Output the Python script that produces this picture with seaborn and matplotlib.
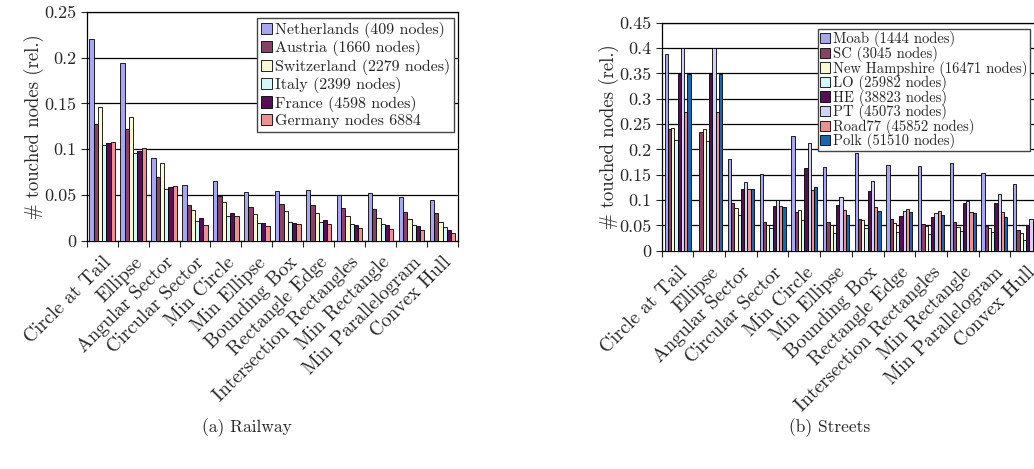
import numpy as np
import pandas as pd
import matplotlib
matplotlib.use('Agg')
import matplotlib.pyplot as plt
import seaborn as sns
from matplotlib.ticker import FuncFormatter, FixedLocator

methods = ['Circle at Tail', 'Ellipse', 'Angular Sector', 'Circular Sector', 'Min Circle',
           'Min Ellipse', 'Bounding Box', 'Rectangle Edge', 'Intersection Rectangles',
           'Min Rectangle', 'Min Parallelogram', 'Convex Hull']

# (a) Railway
rail_names = ['Netherlands (409 nodes)', 'Austria (1660 nodes)', 'Switzerland (2279 nodes)',
              'Italy (2399 nodes)', 'France (4598 nodes)', 'Germany nodes 6884']
netherlands = [0.220, 0.194, 0.091, 0.061, 0.065, 0.053, 0.054, 0.056, 0.050, 0.052, 0.048, 0.045]
austria = [0.128, 0.122, 0.070, 0.039, 0.049, 0.037, 0.040, 0.039, 0.036, 0.035, 0.032, 0.030]
switzerland = [0.146, 0.135, 0.085, 0.034, 0.043, 0.029, 0.033, 0.031, 0.027, 0.025, 0.024, 0.021]
italy = [0.105, 0.096, 0.057, 0.022, 0.027, 0.020, 0.021, 0.021, 0.019, 0.019, 0.017, 0.015]
france = [0.107, 0.098, 0.059, 0.025, 0.031, 0.020, 0.020, 0.023, 0.017, 0.017, 0.016, 0.012]
germany = [0.108, 0.101, 0.060, 0.017, 0.027, 0.016, 0.018, 0.019, 0.014, 0.013, 0.012, 0.009]
rail_colors = ['#9999FF', '#993366', '#FFFFCC', '#CCFFFF', '#660066', '#FF8080']

# (b) Streets
street_names = ['Moab (1444 nodes)', 'SC (3045 nodes)', 'New Hampshire (16471 nodes)',
                'LO (25982 nodes)', 'HE (38823 nodes)', 'PT (45073 nodes)',
                'Road77 (45852 nodes)', 'Polk (51510 nodes)']
moab = [0.389, np.nan, 0.180, 0.151, 0.226, 0.165, 0.192, 0.170, 0.167, 0.174, 0.153, 0.131]
sc = [0.240, 0.234, 0.094, 0.056, 0.076, 0.056, 0.063, 0.063, 0.053, 0.057, 0.049, 0.041]
new_hampshire = [0.243, 0.240, 0.084, 0.050, 0.080, 0.050, 0.061, 0.054, 0.049, 0.046, 0.045, 0.034]
lo = [0.218, 0.216, 0.070, 0.044, 0.061, 0.034, 0.044, 0.036, 0.032, 0.039, 0.037, 0.022]
he = [0.349, 0.349, 0.122, 0.088, 0.164, 0.090, 0.118, 0.068, 0.066, 0.094, 0.094, 0.050]
pt = [0.400, 0.400, 0.136, 0.100, 0.212, 0.105, 0.138, 0.078, 0.075, 0.099, 0.111, 0.063]
road77 = [0.274, 0.273, 0.121, 0.088, 0.120, 0.080, 0.086, 0.082, 0.078, 0.077, 0.076, 0.057]
polk = [0.349, 0.349, 0.122, 0.086, 0.125, 0.070, 0.078, 0.076, 0.070, 0.075, 0.067, 0.055]
street_colors = ['#9999FF', '#993366', '#FFFFCC', '#CCFFFF', '#660066', '#CCCCFF', '#FF8080', '#0066CC']


def to_long(names, series):
    rows = []
    for name, vals in zip(names, series):
        for m, v in zip(methods, vals):
            rows.append({'method': m, 'network': name, 'value': v})
    return pd.DataFrame(rows)


df_rail = to_long(rail_names, [netherlands, austria, switzerland, italy, france, germany])
df_street = to_long(street_names, [moab, sc, new_hampshire, lo, he, pt, road77, polk])

sns.set_style('white')
plt.rcParams['font.family'] = ['cmr10', 'DejaVu Serif']
plt.rcParams['axes.formatter.use_mathtext'] = True

fig = plt.figure(figsize=(10.34, 4.69), dpi=100)
ax1 = fig.add_axes([86.7 / 1034, 1 - 241 / 469, 371.3 / 1034, 229.3 / 469])
ax2 = fig.add_axes([661.7 / 1034, 1 - 250.7 / 469, 380.3 / 1034, 228 / 469])


def style_axis(ax, df, names, colors, ymax, step):
    sns.barplot(data=df, x='method', y='value', hue='network', hue_order=names,
                order=methods, palette=colors, edgecolor='black', linewidth=0.6,
                width=0.82, errorbar=None, ax=ax, zorder=3)
    ax.set_xlim(-0.5, len(methods) - 0.5)
    ax.set_ylim(0, ymax)
    ax.set_yticks(np.arange(0, ymax + step / 2, step))
    ax.yaxis.set_major_formatter(FuncFormatter(lambda v, p: '%g' % round(v, 3)))
    ax.grid(axis='y', color='black', linewidth=0.9, zorder=0)
    ax.set_axisbelow(True)
    ax.set_xlabel('')
    ax.set_ylabel('# touched nodes (rel.)', fontsize=13.5, labelpad=0)
    ax.set_xticks(range(len(methods)))
    ax.set_xticklabels(methods, rotation=45, ha='right', rotation_mode='anchor', fontsize=14)
    ax.xaxis.set_minor_locator(FixedLocator(np.arange(-0.5, len(methods), 1)))
    ax.tick_params(axis='x', which='major', length=0, pad=9)
    ax.tick_params(axis='x', which='minor', length=4, width=0.8, direction='out', bottom=True)
    ax.tick_params(axis='y', length=4, width=0.8, direction='out', left=True, labelsize=13)
    for s in ax.spines.values():
        s.set_color('black')
        s.set_linewidth(0.9)


style_axis(ax1, df_rail, rail_names, rail_colors, 0.25, 0.05)
style_axis(ax2, df_street, street_names, street_colors, 0.45, 0.05)

h, l = ax1.get_legend_handles_labels()
ax1.legend(h, l, loc='upper right', bbox_to_anchor=(454 / 1034, 1 - 18 / 469),
           bbox_transform=fig.transFigure, fontsize=11.5, frameon=True, fancybox=False,
           edgecolor='#444444', framealpha=1, borderpad=0.25, labelspacing=0.15,
           handlelength=0.7, handleheight=0.7, handletextpad=0.2, borderaxespad=0)

h, l = ax2.get_legend_handles_labels()
ax2.legend(h, l, loc='upper left', bbox_to_anchor=(818 / 1034, 1 - 29.3 / 469),
           bbox_transform=fig.transFigure, fontsize=10.5, frameon=True, fancybox=False,
           edgecolor='#444444', framealpha=1, borderpad=0.15, labelspacing=-0.1,
           handlelength=0.7, handleheight=0.7, handletextpad=0.2, borderaxespad=0)

fig.text(247 / 1034, 1 - 428 / 469, '(a) Railway', ha='center', va='center', fontsize=12.5)
fig.text(830 / 1034, 1 - 428 / 469, '(b) Streets', ha='center', va='center', fontsize=12.5)

fig.savefig('out.png', dpi=100)
